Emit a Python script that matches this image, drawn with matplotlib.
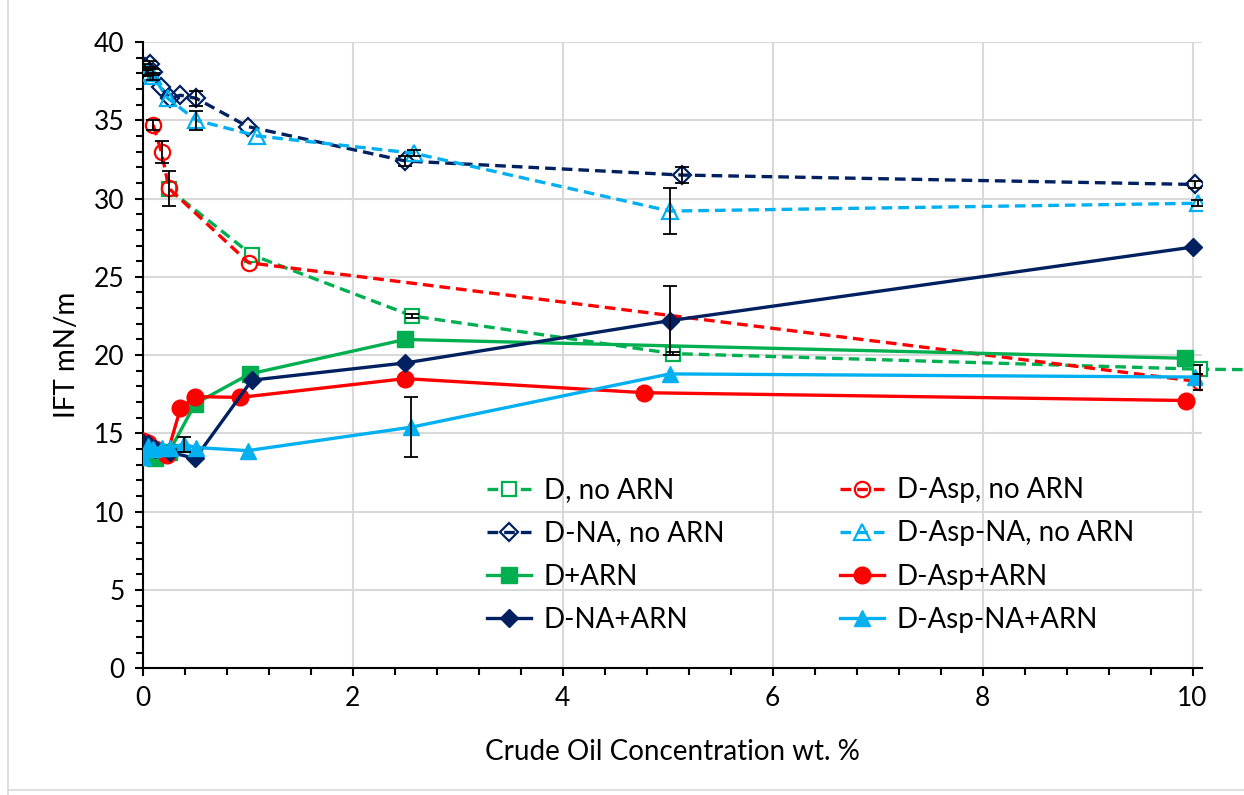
import numpy as np
import matplotlib
matplotlib.use("Agg")
import matplotlib.pyplot as plt
from matplotlib.lines import Line2D
from matplotlib.ticker import MultipleLocator

plt.rcParams['font.family'] = ['Lato', 'DejaVu Sans']

# dashed series (no ARN)
d_x = [0.25, 1.04, 2.57, 5.05, 10.07, 20.0]
d_y = [30.6, 26.4, 22.5, 20.1, 19.1, 18.5]
d_err = [0, 0, 0.1, 0.1, 0.3, 0]

dasp_x = [0.10, 0.18, 0.25, 1.01, 10.07]
dasp_y = [34.7, 32.95, 30.65, 25.9, 18.3]
dasp_err = [0.3, 0.7, 1.1, 0, 0.5]

dna_x = [0.02, 0.07, 0.10, 0.17, 0.26, 0.36, 0.51, 1.00, 2.50, 5.14, 10.02]
dna_y = [38.4, 38.6, 38.1, 37.1, 36.4, 36.6, 36.4, 34.6, 32.4, 31.5, 30.9]
dna_err = [0.2, 0.2, 0.2, 0, 0, 0, 0.5, 0, 0.3, 0.5, 0.2]

daspna_x = [0.03, 0.05, 0.10, 0.24, 0.51, 1.09, 2.58, 5.02, 10.05]
daspna_y = [38.0, 38.1, 37.8, 36.4, 35.0, 34.0, 32.9, 29.2, 29.7]
daspna_err = [0.2, 0.2, 0.2, 0, 0.6, 0, 0.2, 1.45, 0.2]

# solid series (+ARN)
darn_x = [0.00, 0.12, 0.25, 0.50, 1.02, 2.50, 9.93]
darn_y = [13.5, 13.4, 13.8, 16.9, 18.8, 21.0, 19.8]

dasparn_x = [0.00, 0.05, 0.12, 0.23, 0.36, 0.50, 0.93, 2.50, 4.78, 9.94]
dasparn_y = [14.5, 14.4, 14.0, 13.6, 16.6, 17.35, 17.3, 18.5, 17.6, 17.1]

dnaarn_x = [0.00, 0.05, 0.12, 0.26, 0.50, 1.04, 2.50, 5.02, 10.00]
dnaarn_y = [14.4, 14.3, 14.0, 13.8, 13.4, 18.4, 19.5, 22.2, 26.9]
dnaarn_err = [0, 0, 0, 0, 0, 0, 0, 2.2, 0]

daspnaarn_x = [0.00, 0.05, 0.10, 0.18, 0.26, 0.39, 0.51, 1.00, 2.56, 5.02, 10.02]
daspnaarn_y = [13.5, 14.2, 14.0, 14.1, 14.1, 14.3, 14.1, 13.9, 15.4, 18.8, 18.6]
daspnaarn_err = [0, 0, 0, 0, 0, 0.5, 0, 0, 1.9, 0, 0]

green = '#00B050'
red = '#FF0000'
navy = '#002060'
blue = '#00B0F0'

fig = plt.figure(figsize=(12.44, 7.95), dpi=100)
ax = fig.add_axes([0.1147, 0.1594, 0.8515, 0.7878])

dash = (0, (3.2, 1.8))
lw = 2.4


def errs(x, y, e):
    x, y, e = np.array(x), np.array(y), np.array(e)
    m = e > 0
    ax.errorbar(x[m], y[m], yerr=e[m], fmt='none', ecolor='black',
                elinewidth=1.3, capsize=5, capthick=1.3, zorder=5)


h1, = ax.plot(d_x, d_y, linestyle=dash, color=green, lw=lw, marker='s', ms=10,
              mfc='white', mec=green, mew=1.6, clip_on=False, zorder=3, label='D, no ARN')
h2, = ax.plot(dasp_x, dasp_y, linestyle=dash, color=red, lw=lw, marker='o', ms=11,
              mfc='none', mec=red, mew=1.6, zorder=3, label='D-Asp, no ARN')
h3, = ax.plot(dna_x, dna_y, linestyle=dash, color=navy, lw=lw, marker='D', ms=9,
              mfc='none', mec=navy, mew=1.6, zorder=3, label='D-NA, no ARN')
h4, = ax.plot(daspna_x, daspna_y, linestyle=dash, color=blue, lw=lw, marker='^', ms=11,
              mfc='none', mec=blue, mew=1.6, zorder=3, label='D-Asp-NA, no ARN')
h5, = ax.plot(darn_x, darn_y, '-', color=green, lw=lw, marker='s', ms=11,
              zorder=4, label='D+ARN')
h6, = ax.plot(dasparn_x, dasparn_y, '-', color=red, lw=lw, marker='o', ms=12,
              zorder=4, label='D-Asp+ARN')
h7, = ax.plot(dnaarn_x, dnaarn_y, '-', color=navy, lw=lw, marker='D', ms=9,
              zorder=4, label='D-NA+ARN')
h8, = ax.plot(daspnaarn_x, daspnaarn_y, '-', color=blue, lw=lw, marker='^', ms=12,
              zorder=4, label='D-Asp-NA+ARN')

errs(d_x, d_y, d_err)
errs(dasp_x, dasp_y, dasp_err)
errs(dna_x, dna_y, dna_err)
errs(daspna_x, daspna_y, daspna_err)
errs(dnaarn_x, dnaarn_y, dnaarn_err)
errs(daspnaarn_x, daspnaarn_y, daspnaarn_err)

ax.set_xlim(0, 10.09)
ax.set_ylim(0, 40)
ax.xaxis.set_major_locator(MultipleLocator(2))
ax.xaxis.set_minor_locator(MultipleLocator(0.4))
ax.yaxis.set_major_locator(MultipleLocator(5))
ax.yaxis.set_minor_locator(MultipleLocator(1))
ax.grid(True, which='major', color='#D9D9D9', lw=1.5)
ax.set_axisbelow(True)
for s in ['top', 'right']:
    ax.spines[s].set_visible(False)
for s in ['left', 'bottom']:
    ax.spines[s].set_linewidth(1.5)
ax.tick_params(which='major', direction='out', length=6, width=1.5, labelsize=19, pad=7)
ax.tick_params(which='minor', direction='out', length=5, width=1.5)

ax.set_xlabel('Crude Oil Concentration wt. %', fontsize=20, labelpad=20)
ax.set_ylabel('IFT mN/m', fontsize=20, labelpad=10)

handles = [h1, h3, h5, h7, h2, h4, h6, h8]
ax.legend(handles=handles, labels=[h.get_label() for h in handles], ncol=2,
          frameon=False, fontsize=20, loc='upper left', bbox_to_anchor=(0.325, 0.305),
          borderpad=0, handlelength=1.6, columnspacing=4.15, labelspacing=0.62,
          handletextpad=0.45, borderaxespad=0)

fig.add_artist(Line2D([0.0065, 0.0065], [0.0, 1.0], color='#D9D9D9', lw=1.2))
fig.add_artist(Line2D([0.0065, 1.0], [0.006, 0.006], color='#D9D9D9', lw=1.2))

fig.savefig('out.png', dpi=100)
